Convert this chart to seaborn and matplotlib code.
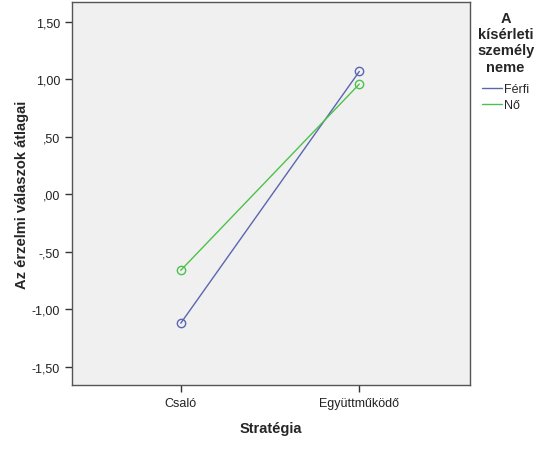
import matplotlib
matplotlib.use("Agg")
import matplotlib.pyplot as plt
import seaborn as sns
import pandas as pd
from matplotlib.lines import Line2D

strategies = ["Csaló", "Együttműködő"]
ferfi = [-1.12, 1.07]
no = [-0.66, 0.96]
groups = ["Férfi", "Nő"]
yticks = [-1.5, -1.0, -0.5, 0.0, 0.5, 1.0, 1.5]
ytick_labels = ["-1,50", "-1,00", "-,50", ",00", ",50", "1,00", "1,50"]

df = pd.DataFrame({
    "Stratégia": strategies * 2,
    "val": ferfi + no,
    "nem": [groups[0]] * 2 + [groups[1]] * 2,
})

sns.set_style("white")
plt.rcParams["font.family"] = ["Liberation Sans", "DejaVu Sans"]

fig = plt.figure(figsize=(5.37, 4.52), dpi=100)
ax = fig.add_axes([72/537, 1-386/452, (470-72)/537, (386-3)/452])
ax.set_facecolor("#F0F0F0")

palette = {"Férfi": "#5a66b0", "Nő": "#4cc24c"}
sns.lineplot(data=df, x="Stratégia", y="val", hue="nem", palette=palette,
             marker="o", markersize=6, linewidth=1.0, ax=ax, legend=False, sort=False)
for ln in ax.lines:
    c = ln.get_color()
    ln.set_markerfacecolor("none")
    ln.set_markeredgecolor(c)
    ln.set_markeredgewidth(1.0)

ax.set_xlim(-0.609, 1.62)
ax.set_ylim(-1.657, 1.674)
ax.set_yticks(yticks)
ax.set_yticklabels(ytick_labels)
ax.tick_params(axis="both", direction="out", length=5, width=1, color="#333333",
               labelsize=9, labelcolor="#222222", left=True, bottom=True)
for s in ax.spines.values():
    s.set_color("#555555")
    s.set_linewidth(1)
ax.set_xlabel("Stratégia", fontsize=10.5, fontweight="bold", labelpad=9)
ax.set_ylabel("Az érzelmi válaszok átlagai", fontsize=10.5, fontweight="bold", labelpad=2)

handles = [Line2D([0], [0], color=palette[g], lw=1) for g in groups]
leg = fig.legend(handles, groups, loc="upper left", bbox_to_anchor=(472/537, 1-7/452),
                 frameon=False, title="A\nkísérleti\nszemély\nneme",
                 title_fontproperties={"weight": "bold", "size": 10.5},
                 fontsize=9, handlelength=1.6, handletextpad=0.2, labelspacing=0.3,
                 borderaxespad=0, alignment="center")
leg.get_title().set_multialignment("center")
leg._legend_box.sep = 7

fig.savefig("out.png", dpi=100)
